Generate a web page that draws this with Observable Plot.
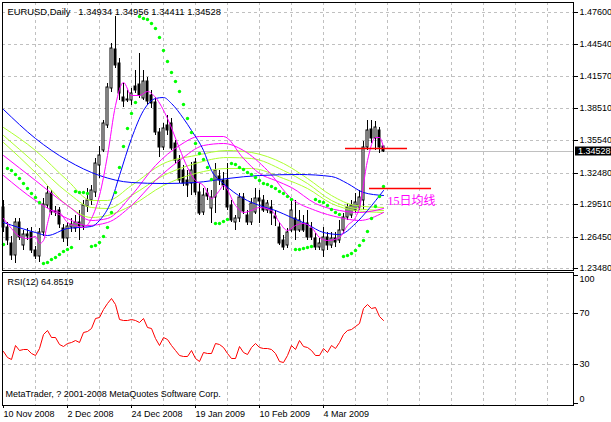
<!DOCTYPE html>
<html><head><meta charset="utf-8">
<script src="https://cdn.jsdelivr.net/npm/d3@7"></script>
<script src="https://cdn.jsdelivr.net/npm/@observablehq/plot@0.6"></script>
<style>
html,body{margin:0;padding:0;background:#fff;}
#wrap{position:relative;width:611px;height:422px;overflow:hidden;background:#fff;}
#wrap svg{position:absolute;left:0;}
</style></head><body><div id="wrap"></div>
<script>
// ---------------- data ----------------
const symbol = "EURUSD,Daily";
const lastQuote = [1.34934, 1.34956, 1.34411, 1.34528]; // O H L C of last bar
const rsiLabel = "RSI(12) 64.8519";
const copyright = "MetaTrader, ? 2001-2008 MetaQuotes Software Corp.";

const open = [1.2923,1.2735,1.2584,1.2471,1.2782,1.2565,1.2669,1.2688,1.2518,1.2462,
1.2688,1.2942,1.3055,1.2876,1.2895,1.2725,1.2631,1.2735,1.2725,1.2782,
1.2744,1.2933,1.2989,1.3064,1.3319,1.3460,1.3696,1.4044,1.4411,1.4280,
1.3959,1.3940,1.3931,1.4063,1.4082,1.3950,1.4110,1.3978,1.3912,1.3630,
1.3488,1.3696,1.3714,1.3526,1.3366,1.3272,1.3177,1.3149,1.3347,1.3064,
1.2876,1.3055,1.2914,1.3017,1.3215,1.3177,1.3177,1.2942,1.2782,1.2820,
1.3017,1.2848,1.2782,1.2876,1.3008,1.2989,1.2895,1.2923,1.2838,1.2735,
1.2612,1.2565,1.2707,1.2820,1.2707,1.2772,1.2772,1.2725,1.2631,1.2546,
1.2518,1.2641,1.2565,1.2631,1.2612,1.2707,1.2829,1.2848,1.2895,1.2923,
1.2989,1.3488,1.3658,1.3573,1.3648,1.34934];
const high = [1.2989,1.2782,1.2650,1.2820,1.2820,1.2707,1.2725,1.2735,1.2556,1.2725,
1.3008,1.3121,1.3083,1.2933,1.2923,1.2763,1.2782,1.2820,1.2848,1.2895,
1.2989,1.3102,1.3130,1.3385,1.3498,1.3743,1.4091,1.4468,1.4722,1.4327,
1.4091,1.4025,1.4044,1.4214,1.4374,1.4214,1.4148,1.4025,1.3959,1.3667,
1.3714,1.3790,1.3761,1.3554,1.3413,1.3319,1.3272,1.3347,1.3385,1.3149,
1.3102,1.3102,1.3083,1.3338,1.3272,1.3253,1.3338,1.2989,1.2848,1.3055,
1.3055,1.2895,1.3008,1.3102,1.3083,1.3036,1.2989,1.2989,1.2895,1.2782,
1.2660,1.2725,1.2989,1.2989,1.2895,1.2848,1.2895,1.2782,1.2678,1.2631,
1.2735,1.2688,1.2688,1.2688,1.2801,1.2867,1.2961,1.2989,1.3055,1.3083,
1.3545,1.3743,1.3743,1.3733,1.3677,1.34956];
const low = [1.2688,1.2565,1.2424,1.2396,1.2612,1.2518,1.2612,1.2490,1.2433,1.2405,
1.2650,1.2914,1.2848,1.2838,1.2725,1.2593,1.2556,1.2688,1.2688,1.2612,
1.2707,1.2876,1.2942,1.3017,1.3196,1.3441,1.3667,1.4006,1.4232,1.3931,
1.3865,1.3912,1.3884,1.3997,1.3950,1.3931,1.3884,1.3856,1.3601,1.3394,
1.3460,1.3601,1.3460,1.3338,1.3149,1.3121,1.3017,1.3036,1.3036,1.2848,
1.2848,1.2989,1.2772,1.2867,1.3130,1.3083,1.2895,1.2782,1.2707,1.2782,
1.2857,1.2754,1.2754,1.2857,1.2772,1.2876,1.2867,1.2754,1.2744,1.2565,
1.2518,1.2537,1.2688,1.2612,1.2688,1.2688,1.2612,1.2612,1.2518,1.2518,
1.2452,1.2518,1.2537,1.2546,1.2584,1.2678,1.2801,1.2820,1.2867,1.2895,
1.2895,1.3460,1.3526,1.3460,1.3432,1.34411];
const close = [1.2735,1.2612,1.2471,1.2782,1.2641,1.2669,1.2650,1.2518,1.2462,1.2688,
1.2951,1.3055,1.2876,1.2885,1.2763,1.2631,1.2744,1.2763,1.2782,1.2744,
1.2942,1.2989,1.3083,1.3338,1.3413,1.3714,1.4053,1.4421,1.4261,1.3997,
1.3922,1.3931,1.3997,1.4025,1.3978,1.4110,1.3922,1.3903,1.3630,1.3488,
1.3667,1.3648,1.3479,1.3366,1.3177,1.3149,1.3130,1.3272,1.3064,1.2867,
1.3036,1.3027,1.3017,1.3272,1.3177,1.3130,1.2923,1.2801,1.2820,1.3017,
1.2885,1.2782,1.2961,1.3008,1.2980,1.2895,1.2961,1.2867,1.2820,1.2584,
1.2546,1.2688,1.2895,1.2707,1.2801,1.2707,1.2641,1.2641,1.2546,1.2584,
1.2641,1.2565,1.2631,1.2593,1.2707,1.2829,1.2923,1.2942,1.2970,1.3017,
1.3488,1.3648,1.3573,1.3677,1.3488,1.34528];

// Parabolic SAR
const sarValues = [1.2575,1.3290,1.3272,1.3234,1.3196,1.3149,1.3102,1.3055,1.3017,1.2970,
1.2396,1.2405,1.2433,1.2452,1.2480,1.2509,1.2528,1.2546,1.3074,1.3064,
1.3064,1.3055,1.2556,1.2565,1.2593,1.2650,1.2735,1.2876,1.3064,1.3300,
1.3498,1.3667,1.3809,1.3912,1.4722,1.4703,1.4694,1.4656,1.4609,1.4524,
1.4402,1.4298,1.4195,1.4110,1.4016,1.3893,1.3761,1.3630,1.3526,1.3432,
1.3375,1.3300,1.3187,1.2772,1.2772,1.2791,1.2810,1.3338,1.3328,1.3300,
1.3281,1.3253,1.3234,1.3206,1.3177,1.3149,1.3140,1.3121,1.3102,1.3074,
1.3055,1.3027,1.2998,1.2528,1.2528,1.2537,1.2546,1.2556,1.2998,1.2980,
1.2970,1.2942,1.2904,1.2876,1.2857,1.2462,1.2471,1.2490,1.2518,1.2565,
1.2612,1.2697,1.2820,1.2933,1.3027,1.3121];

// RSI(12)
const rsi = [40.8,35.9,33.8,44.9,41.1,42.4,42.4,39.0,37.4,42.9,
54.0,56.6,51.4,51.4,46.0,44.2,46.7,47.3,48.8,47.3,
55.0,55.8,58.4,66.6,67.4,73.4,77.8,82.4,77.0,65.3,
64.8,64.8,65.6,64.8,63.5,66.6,59.1,58.4,50.6,45.5,
51.4,49.8,44.9,41.6,37.4,36.9,36.9,41.6,35.1,32.5,
39.5,39.0,38.5,46.7,46.2,43.4,39.0,35.1,35.1,44.2,
39.5,38.2,43.6,46.7,43.6,42.9,42.9,42.1,38.5,32.5,
31.8,37.7,45.5,42.1,48.8,44.2,43.6,41.6,37.4,37.7,
42.9,39.5,45.2,42.9,47.3,54.0,56.6,57.6,59.7,62.2,
73.9,77.2,73.9,74.7,67.9,64.8519];

// Moving averages (sampled points: bar index -> price)
const blueSlowBars = [0,8,16,24,32,40,48,56,64,74,82,86,90,95];
const blueSlow = [1.3846,1.3573,1.3366,1.3224,1.3159,1.3149,1.3159,1.3196,1.3224,1.3234,1.3215,1.3149,1.3064,1.3036];
const blueFastBars = [0,8,11,16,22,24,27,29,32,35,38,40,42,45,47,50,52,55,60,64,68,72,76,80,84,88,91,95];
const blueFast = [1.2782,1.2688,1.2660,1.2725,1.2744,1.2801,1.2989,1.3224,1.3573,1.3837,1.3950,1.3959,1.3903,1.3761,1.3648,1.3460,1.3272,1.3149,1.3008,1.2942,1.2895,1.2829,1.2763,1.2688,1.2669,1.2772,1.2895,1.3083];
const magFastBars = [0,2,4,6,8,9,10,11,12,14,16,18,20,22,24,26,28,30,32,34,36,38,41,44,46,48,50,52,54,55,58,60,62,64,67,69,71,73,75,77,79,81,84,86,88,89,91,93,94,95];
const magFast = [1.2820,1.2725,1.2650,1.2631,1.2650,1.2584,1.2612,1.2772,1.2895,1.2876,1.2782,1.2754,1.2735,1.2820,1.3036,1.3413,1.3884,1.4101,1.3978,1.3978,1.4016,1.3959,1.3761,1.3479,1.3300,1.3177,1.3130,1.3008,1.3083,1.3130,1.2942,1.2876,1.2895,1.2923,1.2895,1.2782,1.2707,1.2754,1.2772,1.2735,1.2641,1.2612,1.2641,1.2754,1.2829,1.2923,1.3366,1.3583,1.3583,1.3488];
const magMidBars = [0,8,16,22,26,32,38,44,49,55,60,64,68,72,78,84,89,95];
const magMid = [1.3413,1.3177,1.2942,1.2801,1.2820,1.3036,1.3319,1.3507,1.3592,1.3592,1.3385,1.3243,1.3177,1.3112,1.2961,1.2895,1.2876,1.2914];
const magSlowBars = [0,8,16,21,26,32,38,44,50,55,60,66,72,78,84,89,95];
const magSlow = [1.3224,1.2989,1.2820,1.2754,1.2782,1.2942,1.3177,1.3366,1.3507,1.3526,1.3460,1.3272,1.3008,1.2895,1.2829,1.2801,1.2876];
const yelBars = [0,8,16,22,26,32,40,48,56,62,70,76,82,88,95];
const yel1 = [1.3677,1.3460,1.3177,1.2989,1.2989,1.3130,1.3338,1.3413,1.3460,1.3441,1.3338,1.3196,1.3036,1.2942,1.2923];
const yel2 = [1.3601,1.3338,1.3064,1.2923,1.2914,1.3036,1.3224,1.3338,1.3394,1.3385,1.3272,1.3149,1.2989,1.2914,1.2895];
const yel3 = [1.3535,1.3253,1.2942,1.2829,1.2848,1.2942,1.3130,1.3243,1.3290,1.3290,1.3196,1.3102,1.2961,1.2895,1.2876];

// Drawn objects
const redLinePrice = [1.3479, 1.3102];
const redLineFrom = [85.5, 91.5];
const redLineTo = [101, 107];
const noteText = "15日均线";
const noteBar = 96, notePrice = 1.2980;

// Axes
const priceTicks = [1.47600,1.44540,1.41570,1.38510,1.35540,1.32480,1.29510,1.26450,1.23480];
const rsiTicks = [0, 30, 70, 100];
const rsiGrid = [30, 70];
const dateLabels = ["10 Nov 2008","2 Dec 2008","24 Dec 2008","19 Jan 2009","10 Feb 2009","4 Mar 2009"];
const dateBars = [0, 16, 32, 48, 64, 80];
const gridBars = [8,16,24,32,40,48,56,64,72,80,88,96,104,112,120,128,136];

// ---------------- chart ----------------
const FONT = "'Liberation Sans', Arial, sans-serif";
const W = 611, ML = 2, MR = 38;
const xDomain = [-0.25, 142.5];
const candles = open.map((o, i) => ({i, o, h: high[i], l: low[i], c: close[i]}));
const up = candles.filter(d => d.c >= d.o);
const down = candles.filter(d => d.c < d.o);
const pts = (bx, vals) => bx.map((b, k) => ({b, v: vals[k]}));
const gridStyle = {stroke: "#c0c0c0", strokeOpacity: 1, strokeDasharray: "3,3"};
const maLine = (bx, vals, color) => Plot.line(pts(bx, vals), {x: "b", y: "v", stroke: color, strokeWidth: 1, curve: "monotone-x"});
const redLines = redLinePrice.map((p, k) => ({p, b1: redLineFrom[k], b2: redLineTo[k]}));
const fmt5 = d3.format(".5f");

const main = Plot.plot({
  width: W, height: 271,
  marginLeft: ML, marginRight: MR, marginTop: 2, marginBottom: 1,
  style: {fontFamily: FONT, fontSize: "9px", background: "white", color: "black", overflow: "hidden"},
  x: {type: "linear", domain: xDomain, axis: null, round: true},
  y: {type: "linear", domain: [1.23297, 1.48542], round: true},
  marks: [
    Plot.ruleX(gridBars, {x: d => d, ...gridStyle}),
    Plot.ruleY(priceTicks, {y: d => d, ...gridStyle}),
    Plot.ruleY([lastQuote[3]], {y: d => d, stroke: "#c0c0c0"}),
    Plot.ruleX(candles, {x: "i", y1: "l", y2: "h", stroke: "black"}),
    Plot.rect(up, {x1: d => d.i - 0.25, x2: d => d.i + 0.25, y1: "o", y2: "c", fill: "white", stroke: "black"}),
    Plot.rect(down, {x1: d => d.i - 0.25, x2: d => d.i + 0.25, y1: "o", y2: "c", fill: "black", stroke: "black"}),
    maLine(yelBars, yel1, "#adff2f"),
    maLine(yelBars, yel2, "#adff2f"),
    maLine(yelBars, yel3, "#adff2f"),
    maLine(magMidBars, magMid, "#ff00ff"),
    maLine(magSlowBars, magSlow, "#ff00ff"),
    maLine(blueSlowBars, blueSlow, "#0000ff"),
    maLine(blueFastBars, blueFast, "#0000ff"),
    maLine(magFastBars, magFast, "#ff00ff"),
    Plot.dot(sarValues.map((v, i) => ({i, v})), {x: "i", y: "v", r: 1.7, fill: "#00ff00", stroke: "none"}),
    Plot.ruleY(redLines, {y: "p", x1: "b1", x2: "b2", stroke: "#ff0000", strokeWidth: 1.5}),
    Plot.text([{b: noteBar, p: notePrice, t: noteText}], {x: "b", y: "p", text: "t", textAnchor: "start", lineAnchor: "middle", fill: "#ff00ff", fontSize: 12, fontFamily: "'Liberation Serif', 'Noto Sans CJK SC', serif"}),
    Plot.frame({stroke: "black"}),
    Plot.axisY({anchor: "right", ticks: priceTicks, tickFormat: fmt5, tickSize: 4, tickPadding: 2, label: null, fontSize: 9}),
    Plot.text([symbol + "\u00a0\u00a0 " + lastQuote.map(fmt5).join(" ")], {text: d => d, frameAnchor: "top-left", dx: 5, dy: 9, lineAnchor: "middle", textAnchor: "start", fontSize: 9.4})
  ]
});

// current price label box on the right price axis
{
  const yy = main.scale("y").apply(lastQuote[3]);
  const x0 = W - MR + 2;
  const s = d3.select(main);
  s.append("rect").attr("x", x0).attr("y", yy - 4.5).attr("width", MR - 2).attr("height", 9).attr("fill", "black");
  s.append("text").attr("x", x0 + 3).attr("y", yy).attr("dy", "0.35em").attr("fill", "white")
    .attr("text-anchor", "start").attr("font-size", 9).attr("font-family", FONT).text(fmt5(lastQuote[3]));
}

const rsiPlot = Plot.plot({
  width: W, height: 151,
  marginLeft: ML, marginRight: MR, marginTop: 1, marginBottom: 17,
  style: {fontFamily: FONT, fontSize: "9px", background: "white", color: "black", overflow: "hidden"},
  x: {type: "linear", domain: xDomain, round: true},
  y: {type: "linear", domain: [-1.9, 102.4], round: true},
  marks: [
    Plot.ruleX(gridBars, {x: d => d, ...gridStyle}),
    Plot.ruleY(rsiGrid, {y: d => d, ...gridStyle}),
    Plot.line(rsi.map((v, i) => ({i, v})), {x: "i", y: "v", stroke: "#ff0000", strokeWidth: 1}),
    Plot.frame({stroke: "black"}),
    Plot.axisY({anchor: "right", ticks: rsiTicks, tickSize: 4, tickPadding: 2, label: null, fontSize: 9,
      tickFormat: d => rsiGrid.includes(d) ? String(d) : ""}),
    Plot.text([rsiTicks[3]], {y: d => d, text: d => String(d), frameAnchor: "right", dx: 6, dy: 4, textAnchor: "start", fontSize: 9}),
    Plot.text([rsiTicks[0]], {y: d => d, text: d => String(d), frameAnchor: "right", dx: 6, dy: -4, textAnchor: "start", fontSize: 9}),
    Plot.axisX({ticks: dateBars, tickFormat: d => dateLabels[dateBars.indexOf(d)], tickSize: 3, tickPadding: 2,
      textAnchor: "start", label: null, fontSize: 9}),
    Plot.text([rsiLabel], {text: d => d, frameAnchor: "top-left", dx: 5, dy: 10, lineAnchor: "middle", textAnchor: "start", fontSize: 9}),
    Plot.text([copyright], {text: d => d, frameAnchor: "bottom-left", dx: 3, dy: -11, lineAnchor: "middle", textAnchor: "start", fontSize: 9})
  ]
});

const wrap = document.getElementById("wrap");
main.style.top = "0px";
rsiPlot.style.top = "271px";
wrap.appendChild(main);
wrap.appendChild(rsiPlot);
</script>
</body></html>
